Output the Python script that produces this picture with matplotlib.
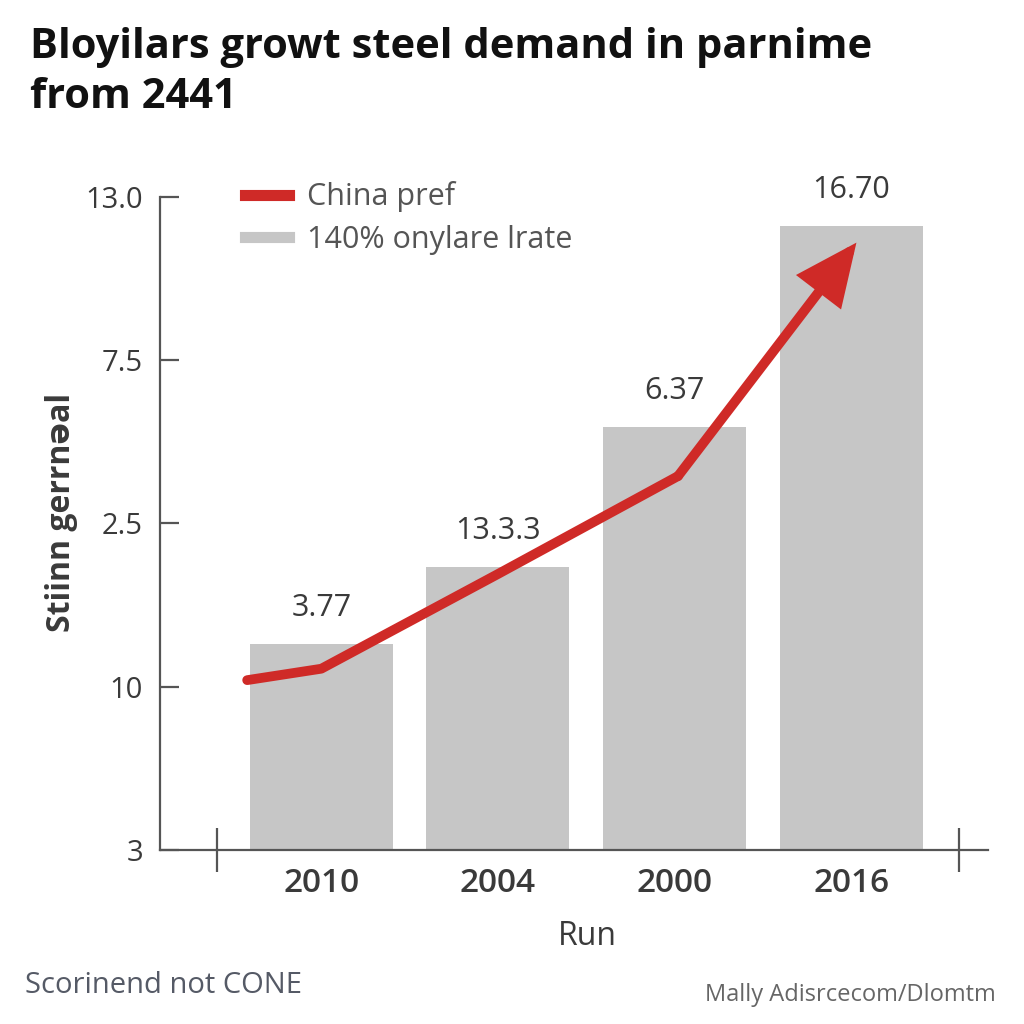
import matplotlib
matplotlib.use('Agg')
import numpy as np
from matplotlib import pyplot as plt
from matplotlib.lines import Line2D

# данные
years = ['2010', '2004', '2000', '2016']
bar_values = [1.26, 1.73, 2.59, 3.82]
bar_labels = ['3.77', '13.3.3', '6.37', '16.70']
y_ticks = [0, 1, 2, 3, 4]
y_tick_labels = ['3', '10', '2.5', '7.5', '13.0']
line_x = [-0.42, 0.0, 1.0, 2.02]
line_y = [1.04, 1.11, 1.69, 2.29]
arrow_end = (3.03, 3.72)
edge_ticks = [-0.59, 3.61]

red = '#cf2a27'
grey = '#c6c6c6'
dark = '#3a3a3a'

plt.rcParams['font.family'] = ['Open Sans', 'DejaVu Sans']

fig = plt.figure(figsize=(10.24, 10.24), dpi=100)
ax = fig.add_axes([0.156, 0.170, 0.809, 0.6377])

x = np.arange(len(years))
ax.bar(x, bar_values, width=0.81, color=grey, zorder=1)
for xi, v, lab in zip(x, bar_values, bar_labels):
    ax.annotate(lab, (xi, v), xytext=(0, 26), textcoords='offset points',
                ha='center', va='center', fontsize=22, color=dark,
                annotation_clip=False)

ax.plot(line_x, line_y, color=red, lw=7, solid_capstyle='round',
        solid_joinstyle='round', zorder=3)
ax.annotate('', xy=arrow_end, xytext=(line_x[-1], line_y[-1]),
            arrowprops=dict(arrowstyle='-|>,head_length=1.1,head_width=0.5',
                            color=red, lw=7, shrinkA=0, shrinkB=0,
                            mutation_scale=30, joinstyle='miter'),
            zorder=3, annotation_clip=False)

ax.set_xlim(-0.915, 3.776)
ax.set_ylim(0, 4)
for s in ['top', 'right']:
    ax.spines[s].set_visible(False)
for s in ['left', 'bottom']:
    ax.spines[s].set_color('#555555')
    ax.spines[s].set_linewidth(1.6)

ax.set_yticks(y_ticks)
ax.set_yticklabels(y_tick_labels, fontsize=21, color=dark)
ax.tick_params(axis='y', direction='in', length=14, width=1.6, color='#555555', pad=12)

ax.set_xticks(x)
ax.set_xticklabels(years, fontsize=24, color=dark, fontweight='semibold')
ax.tick_params(axis='x', which='major', length=0, pad=12)
ax.set_xticks(edge_ticks, minor=True)
ax.tick_params(axis='x', which='minor', direction='inout', length=32, width=1.6, color='#555555')

ax.set_xlabel('Run', fontsize=23, color=dark)
ax.xaxis.set_label_coords(0.5157, -0.107)
fig.text(0.060, 0.50, 'Stiinn gerrnəal', rotation=90, ha='center', va='center',
         fontsize=23, fontweight='bold', color=dark)

handles = [Line2D([], [], color=red, lw=8), Line2D([], [], color=grey, lw=8)]
ax.legend(handles, ['China pref', '140% onylare lrate'], loc='upper left',
          bbox_to_anchor=(0.239, 0.823), bbox_transform=fig.transFigure,
          frameon=False, fontsize=22, labelcolor='#555555', borderpad=0,
          borderaxespad=0, handlelength=1.45, handletextpad=0.6, labelspacing=0.42)

fig.text(0.029, 0.929, 'Bloyilars growt steel demand in parnime\nfrom 2441',
         ha='left', va='center', fontsize=30, fontweight='bold', color='#111111',
         linespacing=1.3)

fig.text(0.024, 0.038, 'Scorinend not CONE', ha='left', va='center',
         fontsize=21, color='#555a66')
fig.text(0.972, 0.028, 'Mally Adisrcecom/Dlomtm', ha='right', va='center',
         fontsize=17, color='#666666')

fig.savefig('out.png', dpi=100, facecolor='white')
